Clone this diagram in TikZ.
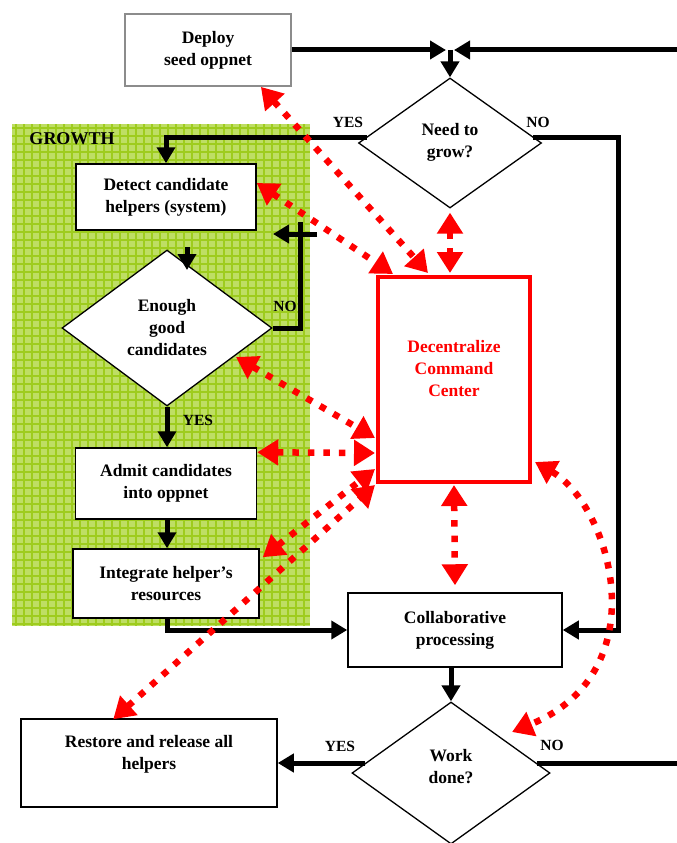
\documentclass[tikz,border=0pt]{standalone}
\usepackage{fontspec}
\setmainfont{Liberation Serif}
\usetikzlibrary{shapes.geometric,arrows.meta,calc}
\definecolor{gbase}{RGB}{190,222,100}
\definecolor{gline}{RGB}{158,204,30}
\tikzset{
  box/.style={draw=black,line width=1.5pt,fill=white,rectangle,align=center,inner sep=2pt,
    font=\bfseries\fontsize{17.5}{22}\selectfont},
  graybox/.style={box,draw=black!45,line width=1.8pt},
  dec/.style={draw=black,line width=1.3pt,fill=white,diamond,align=center,inner sep=0pt,
    font=\bfseries\fontsize{17.5}{22}\selectfont},
  lbl/.style={font=\bfseries\fontsize{15.5}{18}\selectfont,inner sep=0pt},
  flow/.style={line width=5pt,-{Triangle[length=16pt,width=18pt]}},
  flowline/.style={line width=5pt},
  redarr/.style={draw=red,line width=6.5pt,dash pattern=on 6.5pt off 9pt,
    {Triangle[length=21pt,width=25pt]}-{Triangle[length=21pt,width=25pt]}},
  gridline/.style={draw=gline,line width=1.2pt}
}
\begin{document}
\begin{tikzpicture}[x=1pt,y=-1pt]
\useasboundingbox (0,0) rectangle (677,843);
% growth region
\fill[gbase] (12,124) rectangle (310,626);
\foreach \gx in {16,24,...,308} \draw[gridline] (\gx,124) -- (\gx,626);
\foreach \gy in {128,136,...,624} \draw[gridline] (12,\gy) -- (310,\gy);
\node[lbl,font=\bfseries\fontsize{18}{22}\selectfont] (growth) at (72,139) {GROWTH};

% nodes
\node[graybox,minimum width=166pt,minimum height=72pt] (deploy) at (208,50) {Deploy\\seed oppnet};
\node[dec,minimum width=183pt,minimum height=130pt] (grow) at (450,143) {Need to\\grow?\\[-16pt]~};
\node[box,minimum width=180pt,minimum height=66pt] (detect) at (166,197) {Detect candidate\\helpers (system)};
\node[dec,minimum width=210pt,minimum height=156pt] (enough) at (167,328) {Enough\\good\\candidates};
\node[box,minimum width=181pt,minimum height=71pt] (admit) at (166,483.5) {Admit candidates\\into oppnet};
\node[box,minimum width=186pt,minimum height=69pt] (integrate) at (166,583.5) {Integrate helper’s\\resources};
\node[box,minimum width=214pt,minimum height=74pt] (collab) at (455,630) {Collaborative\\processing};
\node[dec,minimum width=198pt,minimum height=142pt] (work) at (451,773) {Work\\done?\\[-8pt]~};
\node[box,minimum width=256pt,minimum height=88pt] (restore) at (149,763) {Restore and release all\\helpers\\[0pt]~};
\node[box,draw=red,line width=4pt,text=red,minimum width=152pt,minimum height=205pt] (cc) at (454,379.5) {Decentralize\\Command\\Center\\[0pt]~};

% coordinates
\coordinate (rtop) at (677,50);
\coordinate (junc) at (450,50);
\coordinate (gcorner) at (618,137);
\coordinate (d1) at (187,247);
\coordinate (d2) at (187,270);
\coordinate (nocorner) at (300,328);
\coordinate (notop) at (300,222);
\coordinate (nar1) at (317,234);
\coordinate (nar2) at (273,234);
\coordinate (rwork) at (677,763);
\coordinate (curveend) at (512,732);

% black flow
\draw[flow] (deploy.east) -- ([xshift=-4pt]junc);
\draw[flow] (rtop) -- ([xshift=4pt]junc);
\draw[flow] (junc) -- (grow.north);
\draw[flow] ([xshift=9pt,yshift=6pt]grow.west) -| (detect.north);
\draw[flow] ([xshift=-9pt,yshift=6pt]grow.east) -- (gcorner) |- (collab.east);
\draw[flow] (d1) -- (d2);
\draw[flowline] (enough.east) -- (nocorner) -- (notop);
\draw[flow] (nar1) -- (nar2);
\draw[flow] (enough.south) -- (enough.south |- admit.north);
\draw[flow] (enough.south |- admit.south) -- (enough.south |- integrate.north);
\draw[flow] (integrate.south -| enough.south) |- (collab.west);
\draw[flow] (collab.south -| work.north) -- (work.north);
\draw[flow] ([xshift=14pt,yshift=10pt]work.west) -- (restore.east);
\draw[flowline] ([xshift=-14pt,yshift=10pt]work.east) -- (rwork);

% labels
\node[lbl] (lyes1) at (348,122) {YES};
\node[lbl] (lno1) at (538,122) {NO};
\node[lbl] (lno2) at (285,306) {NO};
\node[lbl] (lyes2) at (198,420) {YES};
\node[lbl] (lyes3) at (340,746) {YES};
\node[lbl] (lno3) at (552,745) {NO};

% red links
\draw[redarr] ([xshift=-31pt]deploy.south east) -- ([xshift=52pt,yshift=2pt]cc.north west);
\draw[redarr] ([yshift=14pt]detect.east) -- ([xshift=17pt,yshift=1pt]cc.north west);
\draw[redarr] ([yshift=-4pt]grow.south) -- ([xshift=-4pt,yshift=2pt]cc.north);
\draw[redarr] (236,357) -- ([xshift=-1pt,yshift=-58.5pt]cc.west);
\draw[redarr] ([yshift=-5pt]admit.north east) -- ([xshift=-1pt]cc.west |- 0,453);
\draw[redarr] ([xshift=3pt,yshift=-9pt]integrate.north east) -- ([xshift=-1pt,yshift=15pt]cc.south west);
\draw[redarr] ([xshift=93pt,yshift=-1pt]restore.north west) -- ([xshift=-1pt,yshift=-1pt]cc.south west);
\draw[redarr] ([yshift=-1pt]cc.south) -- ([yshift=7pt]collab.north);
\draw[redarr] ([xshift=3pt,yshift=22pt]cc.south east) .. controls (610,505) and (660,671) .. (curveend);
\end{tikzpicture}
\end{document}
